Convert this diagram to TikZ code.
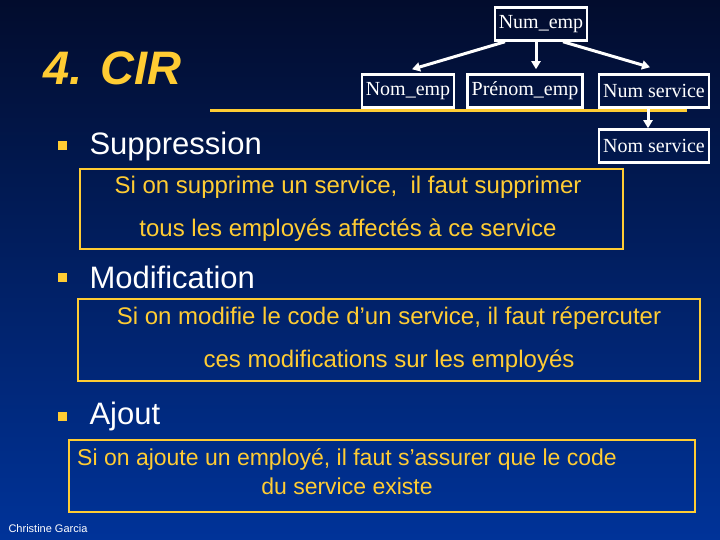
\documentclass[tikz,border=0pt]{standalone}
\usepackage{fontspec}
\setmainfont{Liberation Sans}
\newfontfamily\serifbox{Liberation Serif}
\usetikzlibrary{positioning}
\usetikzlibrary{calc}
\usetikzlibrary{arrows.meta}
\definecolor{slidetop}{RGB}{2,12,45}
\definecolor{slidebottom}{RGB}{0,51,153}
\definecolor{slideyellow}{RGB}{255,204,51}
\begin{document}
\begin{tikzpicture}[x=1pt, y=-1pt,
                whitesquarednode/.style={rectangle, draw=white, line width=2.5pt, text=white, font=\serifbox\fontsize{20}{20}\selectfont, minimum height=33pt, inner xsep=4pt},
                yellowboxnode/.style={rectangle, draw=slideyellow, line width=2pt, text=slideyellow, font=\fontsize{24}{43}\selectfont, align=center},
                headingnode/.style={text=white, font=\fontsize{31}{31}\selectfont, anchor=west},
                bulletnode/.style={fill=slideyellow, minimum size=9pt, inner sep=0pt},
                treearrow/.style={-{Triangle[length=8pt, width=9pt]}, white, line width=3pt},
                ]
                \useasboundingbox (0,0) rectangle (720,540);
                \shade[top color=slidetop, bottom color=slidebottom] (0,0) rectangle (720,540);

                \node[text=slideyellow, font=\bfseries\itshape\fontsize{47}{47}\selectfont, anchor=west] (title) at (40,68) {4. CIR};
                \draw[slideyellow, line width=3pt] (210,111) -- (687,111);

                \node[whitesquarednode] (numemp) at (541,24) {Num\_emp};
                \node[whitesquarednode] (nomemp) at (408,91) {Nom\_emp};
                \node[whitesquarednode] (prenom) at (525,91) {Prénom\_emp};
                \node[whitesquarednode] (numserv) at (654,91) {Num service};
                \node[whitesquarednode] (nomserv) at (654,146) {Nom service};

                \draw[treearrow] ($(numemp.south)+(-36,0)$) -- ($(nomemp.north)+(4,-4)$);
                \draw[treearrow] ($(numemp.south)+(-5,0)$) -- ($(prenom.north)+(11,-4)$);
                \draw[treearrow] ($(numemp.south)+(22,0)$) -- ($(numserv.north)+(-4,-6)$);
                \draw[treearrow] ($(numserv.south)+(-6,0)$) -- ($(nomserv.north)+(-6,0)$);

                \node[bulletnode] (b1) at (62,146) {};
                \node[headingnode] (suppr) at (86,146) {Suppression};
                \draw[yellowboxnode] (80,169) rectangle (623,249);
                \node[yellowboxnode, draw=none] (supprtxt) at (348,209) {Si on supprime un service,\ \ il faut supprimer\\tous les employés affectés à ce service};

                \node[bulletnode] (b2) at (62,277) {};
                \node[headingnode] (modif) at (86,277) {Modification};
                \draw[yellowboxnode] (78,299) rectangle (700,381);
                \node[yellowboxnode, draw=none] (modiftxt) at (389,340) {Si on modifie le code d’un service, il faut répercuter\\ces modifications sur les employés};

                \node[bulletnode] (b3) at (62,416) {};
                \node[headingnode] (ajout) at (86,416) {Ajout};
                \draw[yellowboxnode] (69,440) rectangle (695,512);
                \node[yellowboxnode, draw=none, font=\fontsize{23}{29}\selectfont] (ajouttxt) at (347,472) {Si on ajoute un employé, il faut s’assurer que le code\\du service existe};

                \node[text=white, font=\fontsize{11}{11}\selectfont, anchor=west] (author) at (5,529) {Christine Garcia};
            \end{tikzpicture}
\end{document}
